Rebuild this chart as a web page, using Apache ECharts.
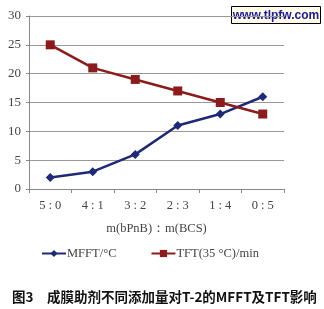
<!DOCTYPE html>
<html>
<head>
<meta charset="utf-8">
<script src="https://cdn.jsdelivr.net/npm/echarts@6/dist/echarts.min.js"></script>
<style>body{margin:0;background:#fff}</style>
</head>
<body>
<div id="main" style="width:324px;height:309px;"></div>
<script>
var categories = ['5 : 0', '4 : 1', '3 : 2', '2 : 3', '1 : 4', '0 : 5'];
var mfft = [2, 3, 6, 11, 13, 16];
var tft = [25, 21, 19, 17, 15, 13];
var yTicks = [0, 5, 10, 15, 20, 25, 30];

var chart = echarts.init(document.getElementById('main'));
var serif = '"Liberation Serif", "DejaVu Serif", serif';

chart.setOption({
    animation: false,
    grid: { left: 29, right: 40, top: 16, bottom: 120 },
    xAxis: {
        type: 'category',
        data: categories,
        boundaryGap: true,
        axisLine: { lineStyle: { color: '#888' } },
        axisTick: { show: true, length: 4, lineStyle: { color: '#888' } },
        axisLabel: { color: '#444', fontFamily: serif, fontSize: 12.5, margin: 10 },
        name: 'm(bPnB)：m(BCS)',
        nameLocation: 'middle',
        nameGap: 33,
        nameTextStyle: { color: '#444', fontFamily: serif, fontSize: 12.5 }
    },
    yAxis: {
        type: 'value',
        min: yTicks[0],
        max: yTicks[yTicks.length - 1],
        interval: 5,
        axisLine: { show: true, lineStyle: { color: '#888' } },
        axisTick: { show: true, length: 3, lineStyle: { color: '#888' } },
        axisLabel: { color: '#444', fontFamily: serif, fontSize: 13, margin: 8 },
        splitLine: { lineStyle: { color: '#999', width: 1 } }
    },
    legend: {
        bottom: 44,
        left: 36,
        itemGap: 34,
        itemWidth: 24,
        itemHeight: 9,
        textStyle: { color: '#444', fontFamily: serif, fontSize: 12.5, padding: [0, 0, 0, -4] },
        data: ['MFFT/°C', 'TFT(35 °C)/min']
    },
    series: [
        {
            name: 'MFFT/°C',
            type: 'line',
            data: mfft,
            symbol: 'diamond',
            symbolSize: 9,
            lineStyle: { color: '#1e2a78', width: 2.5 },
            itemStyle: { color: '#1e2a78' }
        },
        {
            name: 'TFT(35 °C)/min',
            type: 'line',
            data: tft,
            symbol: 'rect',
            symbolSize: 9,
            lineStyle: { color: '#8c1c1c', width: 2.5 },
            itemStyle: { color: '#8c1c1c' }
        }
    ],
    graphic: [
        {
            type: 'group',
            left: 231,
            top: 6,
            children: [
                { type: 'rect', shape: { x: 0, y: 0, width: 89, height: 17 },
                  style: { fill: '#fffbe8', stroke: '#000', lineWidth: 1 } },
                { type: 'text', x: 44.5, y: 9,
                  style: { text: 'www.tlpfw.com', fill: '#1a1a9a', align: 'center', verticalAlign: 'middle',
                           font: 'bold 12px "Liberation Sans", Arial, sans-serif' } }
            ]
        },
        {
            type: 'text',
            left: 12,
            top: 290,
            style: {
                text: '图3　成膜助剂不同添加量对T-2的MFFT及TFT影响',
                fill: '#111',
                font: 'bold 13.5px "Noto Sans CJK SC", serif'
            }
        }
    ]
});
</script>
</body>
</html>
